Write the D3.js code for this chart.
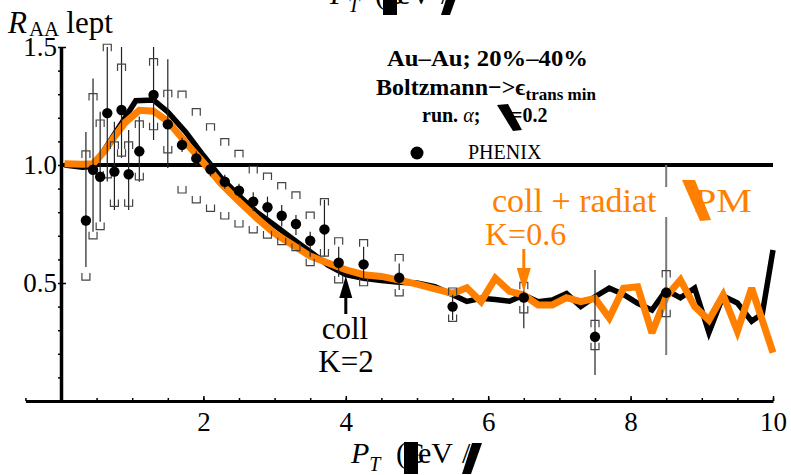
<!DOCTYPE html>
<html>
<head>
<meta charset="utf-8">
<script src="https://cdn.jsdelivr.net/npm/d3@7"></script>
<style>
  html, body { margin: 0; padding: 0; background: #fff; }
  svg { display: block; }
  text { font-family: "Liberation Serif", "Times New Roman", serif; }
</style>
</head>
<body>
<svg id="chart" width="791" height="475"></svg>
<script>
// PHENIX non-photonic electron R_AA, Au-Au 20%-40%
const dataPt     = [0.35,0.45,0.55,0.65,0.75,0.85,0.95,1.1,1.3,1.5,1.7,1.9,2.1,2.3,2.5,2.7,2.9,3.1,3.3,3.5,3.7,3.9,4.25,4.75,5.5,6.5,7.5,8.5];
const dataRaa    = [0.765,0.98,0.95,1.22,0.972,1.233,0.961,1.058,1.297,1.172,1.085,1.028,0.982,0.929,0.891,0.845,0.821,0.785,0.75,0.679,0.727,0.586,0.579,0.522,0.40,0.438,0.272,0.459];
const statUpper  = [1.14,1.367,1.226,1.5,1.183,1.5,1.148,1.205,1.5,1.448,1.115,1.058,1.012,0.959,0.921,0.885,0.866,0.83,0.788,0.717,0.852,0.654,0.654,0.583,0.45,0.57,0.555,1.0];
const statLower  = [0.568,0.717,0.76,0.93,0.809,1.03,0.809,0.929,1.106,0.987,1.055,0.998,0.952,0.899,0.861,0.805,0.776,0.739,0.703,0.611,0.611,0.527,0.51,0.47,0.343,0.308,0.11,0.195];
const sysUpper   = [1.047,1.29,1.178,1.499,1.085,1.415,1.085,1.174,1.438,1.304,1.30,1.226,1.162,1.099,1.049,0.981,0.953,0.913,0.873,0.788,0.845,0.679,0.671,0.608,0.466,0.49,0.329,0.54];
const sysLower   = [0.525,0.70,0.739,0.958,0.837,1.05,0.838,0.95,1.162,1.064,0.894,0.852,0.816,0.784,0.75,0.725,0.703,0.675,0.65,0.586,0.627,0.513,0.501,0.458,0.35,0.386,0.23,0.37];

// Model: collisional energy loss, K=2
const collPt  = [0.05,0.3,0.45,0.6,0.75,0.9,1.05,1.3,1.5,1.75,2.0,2.25,2.5,2.75,3.0,3.25,3.5,3.75,4.0,4.25,4.5,4.75,5.0,5.25,5.5,5.7,5.9,6.1,6.3,6.5,6.7,6.9,7.1,7.3,7.5,7.7,7.9,8.1,8.3,8.5,8.7,8.9,9.1,9.3,9.5,9.7,9.85,10.0];
const collRaa = [1.0,0.99,0.993,1.06,1.13,1.20,1.272,1.275,1.225,1.14,1.04,0.945,0.87,0.80,0.745,0.688,0.633,0.576,0.535,0.52,0.51,0.503,0.50,0.485,0.45,0.422,0.435,0.43,0.423,0.449,0.421,0.428,0.455,0.40,0.442,0.478,0.452,0.414,0.385,0.47,0.437,0.478,0.29,0.445,0.415,0.338,0.37,0.64];

// Model: collisional + radiative, K=0.6
const radPt  = [0.05,0.3,0.45,0.6,0.75,0.9,1.1,1.3,1.5,1.75,2.0,2.25,2.5,2.75,3.0,3.25,3.5,3.75,4.0,4.25,4.5,4.75,5.0,5.25,5.5,5.7,5.9,6.1,6.3,6.5,6.7,6.9,7.1,7.3,7.5,7.7,7.9,8.1,8.3,8.5,8.7,8.9,9.1,9.3,9.5,9.7,10.0];
const radRaa = [1.005,1.003,1.005,1.055,1.12,1.18,1.232,1.228,1.185,1.095,1.01,0.92,0.845,0.775,0.71,0.662,0.614,0.585,0.556,0.535,0.528,0.512,0.495,0.475,0.456,0.48,0.421,0.52,0.465,0.449,0.407,0.407,0.438,0.421,0.435,0.352,0.478,0.484,0.288,0.442,0.513,0.40,0.343,0.449,0.296,0.478,0.205];

// Axis ticks
const xTickLabels = [2, 4, 6, 8, 10];
const yTickLabels = [0.5, 1.0, 1.5];

const ORANGE = "#ff8000";
const svg = d3.select("#chart");

const x = d3.scaleLinear().domain([-0.5, 10]).range([25.4, 773]);
const y = d3.scaleLinear().domain([0, 1.5]).range([401, 47]);

// ---- axes ----
const xMinor = d3.range(-0.5, 10.01, 0.5);
svg.append("g").attr("transform", `translate(0,${y(0)})`)
  .call(d3.axisBottom(x).tickValues(xMinor).tickSize(-3).tickSizeOuter(0).tickFormat(""))
  .call(g => g.select(".domain").attr("stroke-width", 3).attr("stroke", "#000"))
  .call(g => g.selectAll(".tick line").attr("stroke-width", 1.5));

svg.append("g").attr("transform", `translate(0,${y(0)})`)
  .call(d3.axisBottom(x).tickValues(xTickLabels).tickSize(-5).tickSizeOuter(0).tickPadding(11).tickFormat(d3.format("d")))
  .call(g => g.select(".domain").remove())
  .call(g => g.selectAll(".tick line").attr("stroke-width", 1.5))
  .call(g => g.selectAll("text").attr("font-size", 27).attr("font-family", "Liberation Serif").attr("fill", "#000"));

const yMinor = d3.range(0, 1.501, 0.1);
svg.append("g").attr("transform", `translate(${x(0)},0)`)
  .call(d3.axisLeft(y).tickValues(yMinor).tickSize(3).tickSizeOuter(0).tickFormat(""))
  .call(g => g.select(".domain").attr("stroke-width", 3.5).attr("stroke", "#000"))
  .call(g => g.selectAll(".tick line").attr("stroke-width", 1.5));

svg.append("g").attr("transform", `translate(${x(0)},0)`)
  .call(d3.axisLeft(y).tickValues(yTickLabels).tickSize(-5).tickSizeOuter(0).tickPadding(4).tickFormat(d3.format(".1f")))
  .call(g => g.select(".domain").remove())
  .call(g => g.selectAll(".tick line").attr("stroke-width", 1.5))
  .call(g => g.selectAll("text").attr("font-size", 27).attr("font-family", "Liberation Serif").attr("fill", "#000"));

// reference line R_AA = 1
svg.append("line")
  .attr("x1", x(0)).attr("x2", x(10))
  .attr("y1", y(1)).attr("y2", y(1))
  .attr("stroke", "#000").attr("stroke-width", 4);

// ---- model curves ----
const line = d3.line().x(d => x(d[0])).y(d => y(d[1]));
svg.append("path")
  .datum(collPt.map((p, i) => [p, collRaa[i]]))
  .attr("d", line).attr("fill", "none").attr("stroke", "#000")
  .attr("stroke-width", 5.5).attr("stroke-linejoin", "miter").attr("stroke-miterlimit", 3);
svg.append("path")
  .datum(radPt.map((p, i) => [p, radRaa[i]]))
  .attr("d", line).attr("fill", "none").attr("stroke", ORANGE)
  .attr("stroke-width", 7).attr("stroke-linejoin", "miter").attr("stroke-miterlimit", 3);

// ---- PHENIX points ----
const pts = dataPt.map((p, i) => ({
  p, r: dataRaa[i], su: statUpper[i], sl: statLower[i], yu: sysUpper[i], yl: sysLower[i]
}));
const gErr = svg.append("g");
gErr.selectAll("line.stat").data(pts).join("line")
  .attr("class", "stat")
  .attr("x1", d => x(d.p)).attr("x2", d => x(d.p))
  .attr("y1", d => y(d.su)).attr("y2", d => y(d.sl))
  .attr("stroke", d => d.p > 8 ? "#7a7a7a" : "#222")
  .attr("stroke-width", d => d.p > 8 ? 2 : 1.2);

// white box behind the orange label
svg.append("rect").attr("x", 640).attr("y", 187).attr("width", 40).attr("height", 30).attr("fill", "#fff");

const bw = 4;
gErr.selectAll("path.sysU").data(pts).join("path")
  .attr("class", "sysU")
  .attr("d", d => { const cx = x(d.p), cy = y(d.yu);
    return `M${cx - bw},${cy + 4}V${cy - 3}H${cx + bw}V${cy + 4}`; })
  .attr("fill", "none").attr("stroke", "#444").attr("stroke-width", 1.2);
gErr.selectAll("path.sysL").data(pts).join("path")
  .attr("class", "sysL")
  .attr("d", d => { const cx = x(d.p), cy = y(d.yl);
    return `M${cx - bw},${cy - 4}V${cy + 3}H${cx + bw}V${cy - 4}`; })
  .attr("fill", "none").attr("stroke", "#444").attr("stroke-width", 1.2);

svg.append("g").selectAll("circle").data(pts).join("circle")
  .attr("cx", d => x(d.p)).attr("cy", d => y(d.r)).attr("r", 5.2).attr("fill", "#000");

// ---- annotations ----
const orangeLbl = svg.append("g").attr("fill", ORANGE).attr("font-size", 34);
orangeLbl.append("text").attr("x", 492).attr("y", 212).text("coll + radiat");
orangeLbl.append("text").attr("x", 694).attr("y", 212).attr("textLength", 58).attr("lengthAdjust", "spacingAndGlyphs").text("PM");
orangeLbl.append("path").attr("d", "M682,180L695,180L711,220L700,221Z");
orangeLbl.append("text").attr("x", 485).attr("y", 245).attr("font-size", 32).text("K=0.6");

// orange arrow
svg.append("line").attr("x1", x(6.5)).attr("x2", x(6.5)).attr("y1", 249).attr("y2", 272)
  .attr("stroke", ORANGE).attr("stroke-width", 3);
svg.append("path").attr("fill", ORANGE)
  .attr("d", `M${x(6.5) - 7},268L${x(6.5) + 7},268L${x(6.5)},292Z`);

// black arrow
svg.append("line").attr("x1", x(4)).attr("x2", x(4)).attr("y1", 314).attr("y2", 292)
  .attr("stroke", "#000").attr("stroke-width", 3);
svg.append("path").attr("fill", "#000")
  .attr("d", `M${x(4) - 6.5},298L${x(4) + 6.5},298L${x(4)},276Z`);
svg.append("text").attr("x", 345).attr("y", 339).attr("text-anchor", "middle").attr("font-size", 31).text("coll");
svg.append("text").attr("x", 346).attr("y", 372).attr("text-anchor", "middle").attr("font-size", 31).text("K=2");

// ---- legend block ----
const leg = svg.append("g").attr("font-weight", "bold").attr("fill", "#000");
leg.append("text").attr("x", 387).attr("y", 66).attr("font-size", 23)
  .attr("textLength", 201).attr("lengthAdjust", "spacingAndGlyphs").text("Au–Au; 20%–40%");
const bz = leg.append("text").attr("x", 376).attr("y", 95).attr("font-size", 24);
bz.append("tspan").text("Boltzmann−>ϵ");
bz.append("tspan").attr("font-size", 17).attr("dy", 5).text("trans min");
const ra = leg.append("text").attr("x", 422).attr("y", 122).attr("font-size", 20);
ra.append("tspan").text("run. ");
ra.append("tspan").attr("font-style", "italic").attr("font-weight", "normal").text("α");
ra.append("tspan").text(";");
leg.append("path").attr("d", "M497,105L508,104L522,130L513,131Z");
leg.append("text").attr("x", 511).attr("y", 122).attr("font-size", 20).text("=0.2");

svg.append("circle").attr("cx", 417).attr("cy", 153).attr("r", 6.5).attr("fill", "#000");
svg.append("text").attr("x", 468).attr("y", 159).attr("font-size", 20).text("PHENIX");

// ---- y axis title ----
const yt = svg.append("text").attr("x", 8).attr("y", 33).attr("font-size", 31);
yt.append("tspan").attr("font-style", "italic").text("R");
yt.append("tspan").attr("font-size", 21).attr("dy", 3).attr("dx", 2).text("AA");
yt.append("tspan").attr("dy", -3).attr("dx", 7).text("lept");

// ---- x axis title (also repeated, clipped, at the top edge) ----
function axisTitle(x0, base) {
  const g = svg.append("g").attr("transform", `translate(${x0},${base})`);
  const t = g.append("text").attr("font-size", 30);
  t.append("tspan").attr("font-style", "italic").text("P");
  t.append("tspan").attr("font-style", "italic").attr("font-size", 20).attr("dy", 8).text("T");
  g.append("text").attr("x", 45).attr("font-size", 30).text("(");
  g.append("text").attr("x", 53).attr("font-size", 30).text("G");
  g.append("text").attr("x", 67).attr("font-size", 30).text("eV");
  g.append("text").attr("x", 111).attr("font-size", 30).text("/");
  g.append("rect").attr("x", 53).attr("y", -21).attr("width", 14).attr("height", 32).attr("fill", "#000");
  g.append("path").attr("d", "M121,-20L131,-20L120,11L111,11Z").attr("fill", "#000");
}
axisTitle(351, 463);
axisTitle(330, 4);
</script>
</body>
</html>
